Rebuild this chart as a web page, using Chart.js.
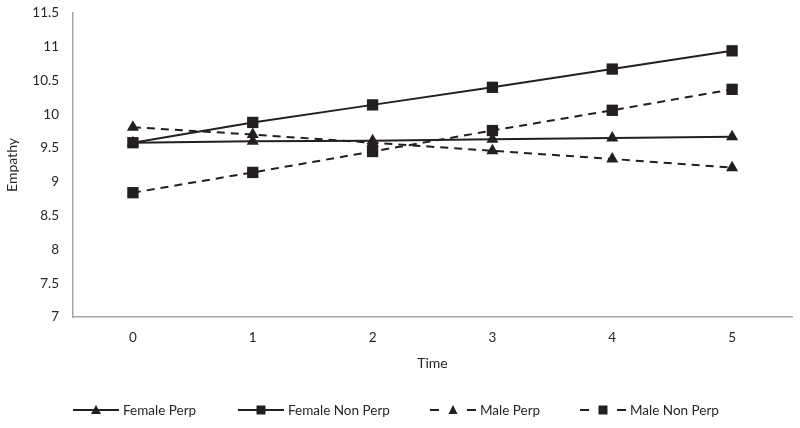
<!DOCTYPE html>
<html>
<head>
<meta charset="utf-8">
<script src="https://cdn.jsdelivr.net/npm/chart.js@4/dist/chart.umd.min.js"></script>
<style>
html,body{margin:0;padding:0;background:#fff;}
#wrap{width:800px;height:428px;}
</style>
</head>
<body>
<div id="wrap"><canvas id="c" width="800" height="428"></canvas></div>
<script>
const categories = ['0','1','2','3','4','5'];
const femalePerp = [9.58, 9.60, 9.61, 9.63, 9.65, 9.67];
const femaleNonPerp = [9.58, 9.88, 10.14, 10.40, 10.67, 10.94];
const malePerp = [9.81, 9.70, 9.58, 9.46, 9.34, 9.21];
const maleNonPerp = [8.84, 9.14, 9.45, 9.76, 10.06, 10.37];
const seriesNames = ['Female Perp', 'Female Non Perp', 'Male Perp', 'Male Non Perp'];

const FONT = 'Lato, "Open Sans", sans-serif';
const INK = '#231f20';
const TXT = '#262626';

function ds(label, data, marker, dashed) {
  return {
    label, data,
    borderColor: INK, backgroundColor: INK,
    borderWidth: 2,
    borderDash: dashed ? [8, 6] : [],
    pointStyle: marker,
    pointRadius: marker === 'rect' ? 8 : 7,
    pointHoverRadius: marker === 'rect' ? 8 : 7,
    pointBorderWidth: 0,
    tension: 0,
    fill: false,
    clip: false
  };
}

const legendPlugin = {
  id: 'customLegend',
  afterDraw(chart) {
    const ctx = chart.ctx;
    ctx.save();
    ctx.font = '13.5px ' + FONT;
    const y = 410;
    const items = [
      {name: seriesNames[0], marker: 'tri', dashed: false},
      {name: seriesNames[1], marker: 'rect', dashed: false},
      {name: seriesNames[2], marker: 'star', dashed: true},
      {name: seriesNames[3], marker: 'rect', dashed: true}
    ];
    const starts = [73, 238, 430, 580];
    items.forEach((it, i) => {
      const x0 = starts[i], x1 = x0 + 46, xm = (x0 + x1) / 2;
      ctx.strokeStyle = INK; ctx.fillStyle = INK; ctx.lineWidth = 2;
      if (it.dashed) {
        ctx.beginPath(); ctx.moveTo(x0, y); ctx.lineTo(x0 + 9, y); ctx.stroke();
        ctx.beginPath(); ctx.moveTo(x1 - 9, y); ctx.lineTo(x1, y); ctx.stroke();
      } else {
        ctx.beginPath(); ctx.moveTo(x0, y); ctx.lineTo(x1, y); ctx.stroke();
      }
      if (it.marker === 'rect') {
        ctx.fillRect(xm - 4.5, y - 4.5, 9, 9);
      } else if (it.marker === 'tri') {
        ctx.beginPath(); ctx.moveTo(xm, y - 5); ctx.lineTo(xm + 5, y + 4); ctx.lineTo(xm - 5, y + 4); ctx.closePath(); ctx.fill();
      } else {
        ctx.beginPath(); ctx.moveTo(xm, y - 5); ctx.lineTo(xm + 4.5, y + 4); ctx.lineTo(xm - 4.5, y + 4); ctx.closePath(); ctx.fill();
      }
      ctx.fillStyle = TXT;
      ctx.textBaseline = 'middle';
      ctx.textAlign = 'left';
      ctx.fillText(it.name, x1 + 4, y + 1);
    });
    ctx.restore();
  }
};

new Chart(document.getElementById('c'), {
  type: 'line',
  data: {
    labels: categories,
    datasets: [
      ds(seriesNames[0], femalePerp, 'triangle', false),
      ds(seriesNames[1], femaleNonPerp, 'rect', false),
      ds(seriesNames[2], malePerp, 'triangle', true),
      ds(seriesNames[3], maleNonPerp, 'rect', true)
    ]
  },
  options: {
    responsive: false,
    animation: false,
    devicePixelRatio: 1,
    layout: {padding: {top: 13, right: 7, bottom: 56, left: 0}},
    plugins: {legend: {display: false}, tooltip: {enabled: false}},
    scales: {
      x: {
        offset: true,
        grid: {display: false, drawTicks: false},
        border: {display: true, color: '#a6a6a6', width: 1.5},
        ticks: {color: TXT, font: {family: FONT, size: 13.5}, padding: 13},
        title: {display: true, text: 'Time', color: TXT, font: {family: FONT, size: 14}, padding: {top: -4, bottom: 0}}
      },
      y: {
        min: 7, max: 11.5,
        grid: {display: false, drawTicks: false},
        border: {display: true, color: '#a6a6a6', width: 1.5},
        ticks: {stepSize: 0.5, color: TXT, font: {family: FONT, size: 13.5}, padding: 14,
          callback: v => String(v)},
        title: {display: true, text: 'Empathy', color: TXT, font: {family: FONT, size: 14}, padding: {bottom: 4}},
        afterFit(scale) { scale.width = 73; scale.paddingTop = 0; scale.paddingBottom = 0; }
      }
    }
  },
  plugins: [legendPlugin]
});
</script>
</body>
</html>
